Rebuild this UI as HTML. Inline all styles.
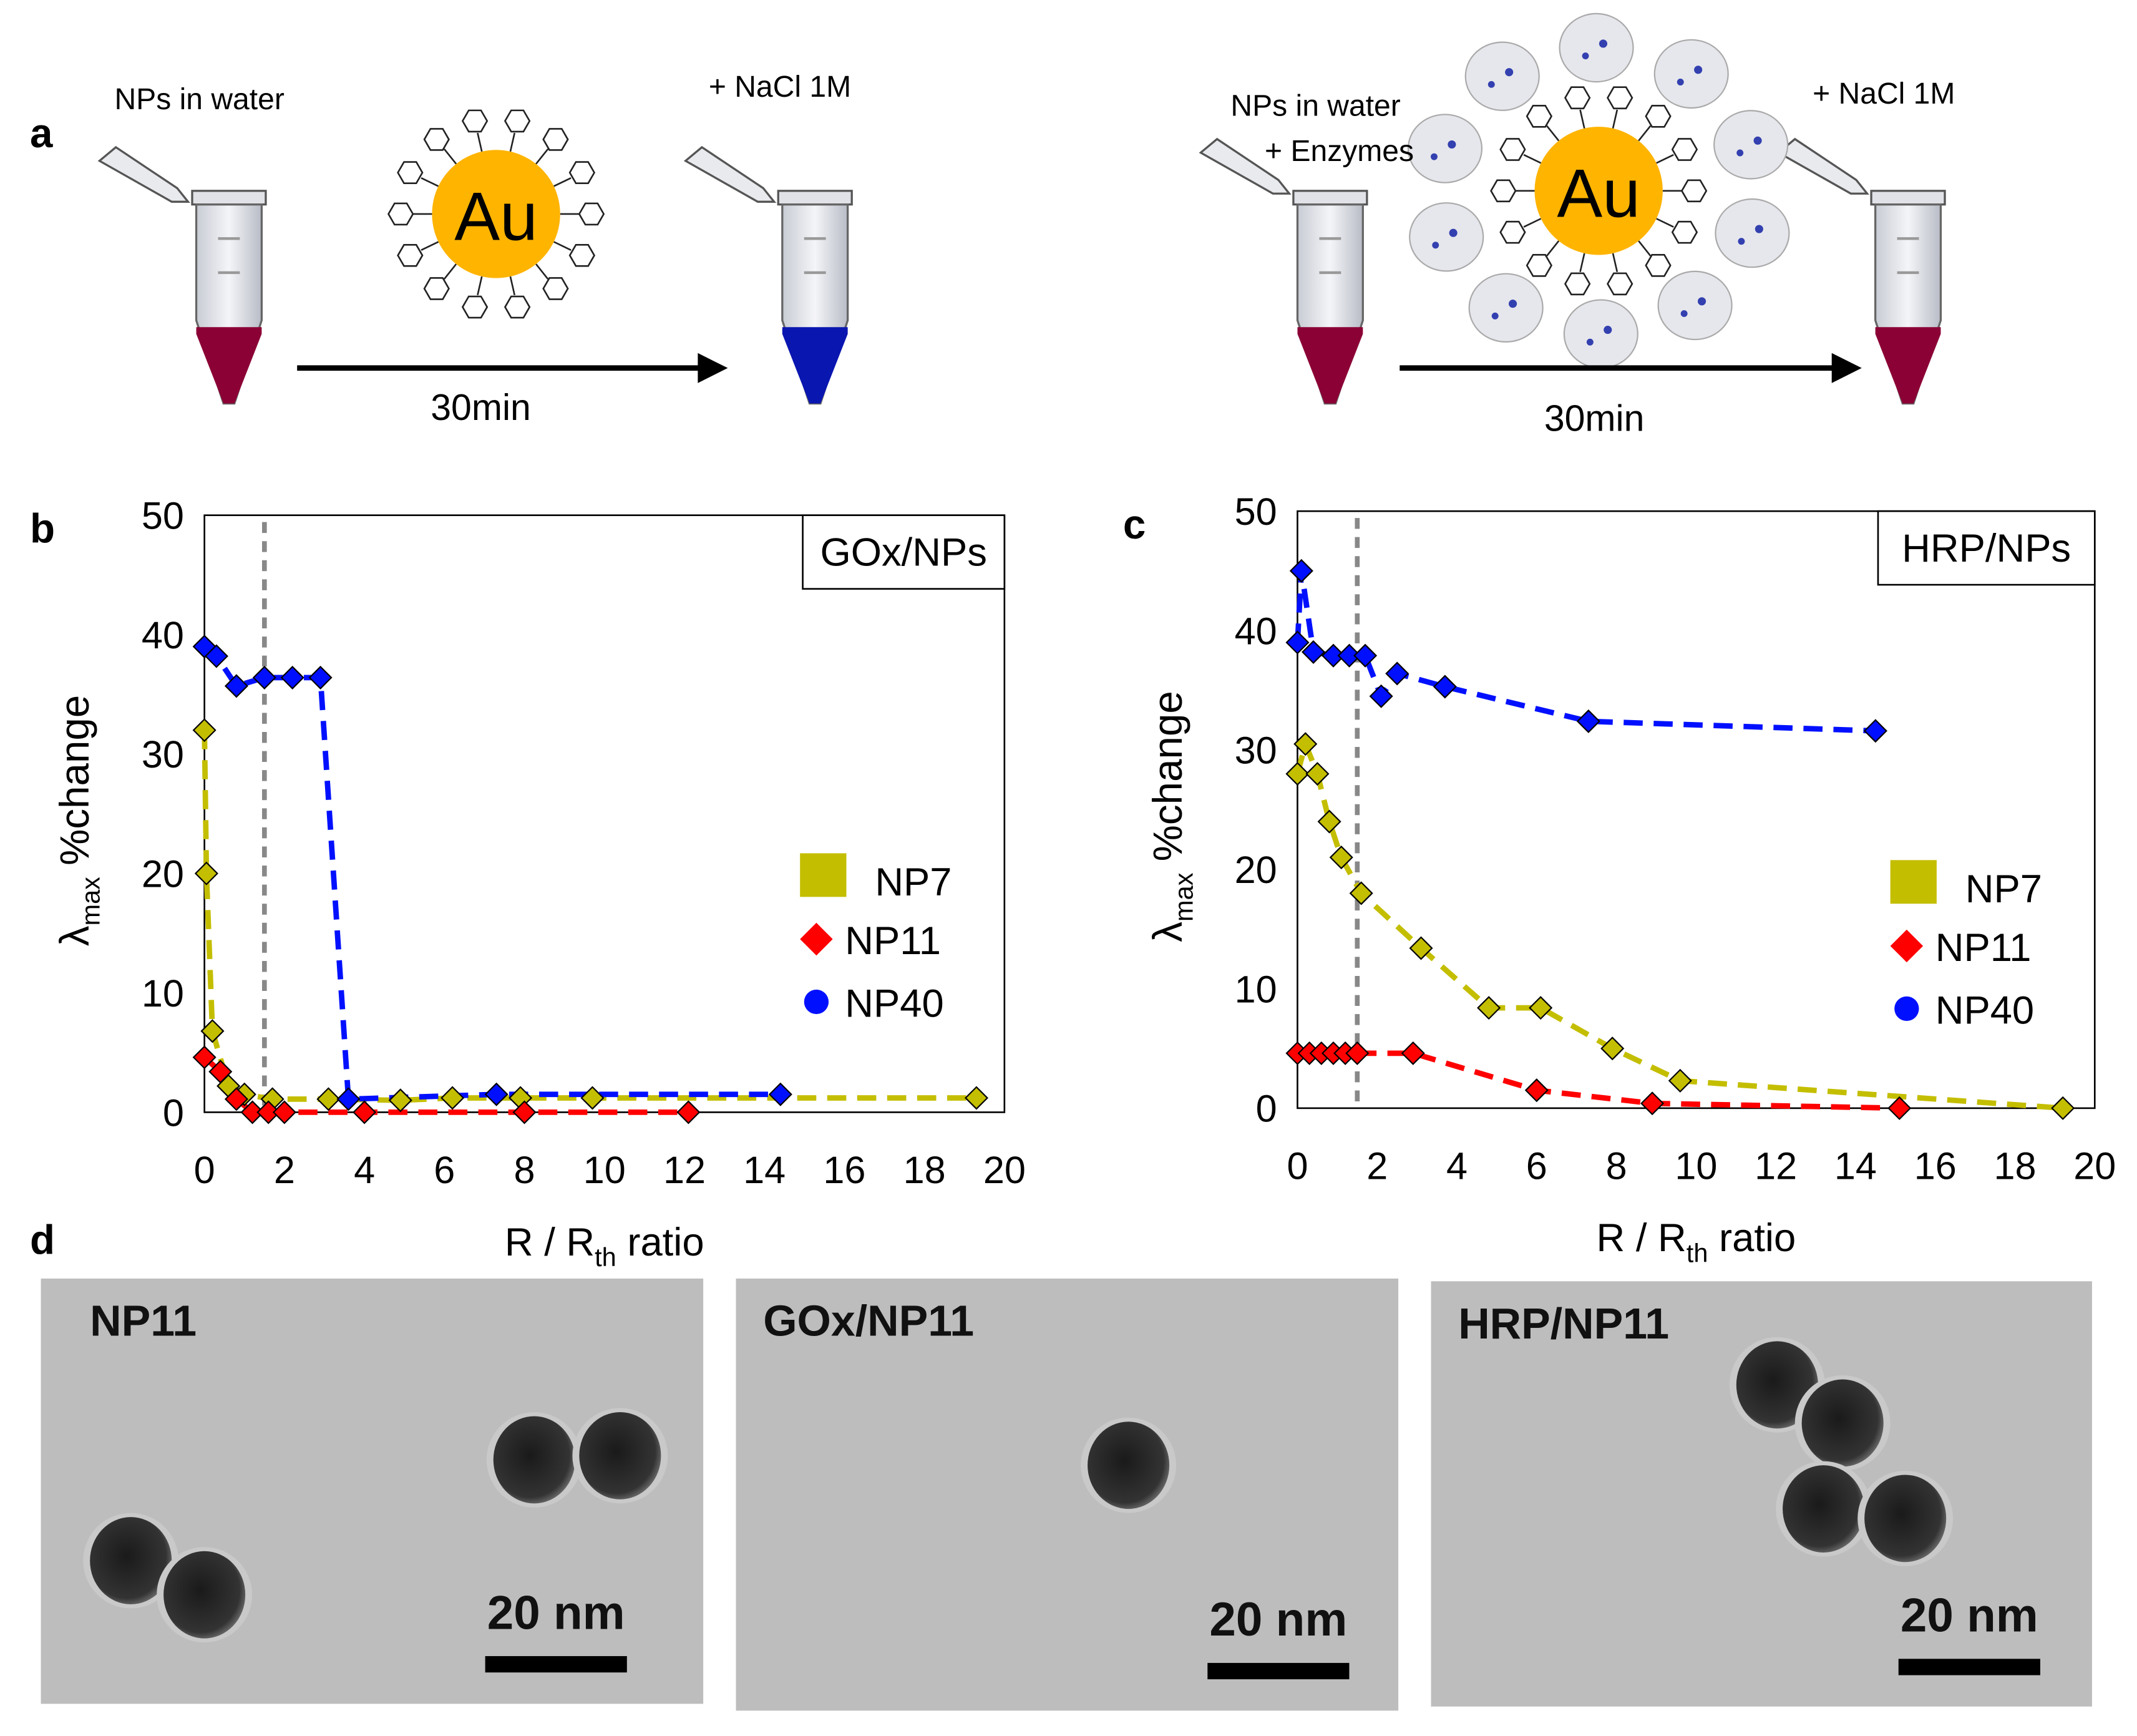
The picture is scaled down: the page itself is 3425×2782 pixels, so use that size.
<!DOCTYPE html>
<html><head><meta charset="utf-8">
<style>
html,body{margin:0;padding:0;background:#fff;}
svg{display:block;font-family:"Liberation Sans",Arial,sans-serif;}
</style></head>
<body>
<svg id="fig" width="3425" height="2782" viewBox="0 0 1568 1273.6" xmlns="http://www.w3.org/2000/svg">
<defs>
<linearGradient id="tubeG" x1="0" x2="1"><stop offset="0" stop-color="#c8ccd4"/><stop offset="0.5" stop-color="#f4f5f8"/><stop offset="1" stop-color="#b8bcc6"/></linearGradient>
<radialGradient id="np" cx="0.45" cy="0.45" r="0.6"><stop offset="0" stop-color="#1a1a1a"/><stop offset="0.8" stop-color="#333"/><stop offset="1" stop-color="#777"/></radialGradient>
</defs>

<g>
<text x="22" y="108" font-size="30" font-weight="bold">a</text>
<g id="tubes"></g>
<text x="84" y="80" font-size="22">NPs in water</text>
<text x="520" y="71" font-size="22">+ NaCl 1M</text>
<g id="ligands"></g>
<text x="903" y="85" font-size="22">NPs in water</text>
<text x="928" y="118" font-size="22">+ Enzymes</text>
<text x="1330" y="76" font-size="22">+ NaCl 1M</text>
<line x1="218" y1="270" x2="520" y2="270" stroke="#000" stroke-width="4"/>
<polygon points="534,270 512,259 512,281" fill="#000"/>
<text x="316" y="308" font-size="27">30min</text>
<line x1="1027" y1="270" x2="1350" y2="270" stroke="#000" stroke-width="4"/>
<polygon points="1366,270 1344,259 1344,281" fill="#000"/>
<text x="1133" y="316" font-size="27">30min</text>
<circle cx="364" cy="157" r="47" fill="#FFB400"/>
<text x="364" y="176" font-size="50" text-anchor="middle">Au</text>
<circle cx="1173" cy="140" r="47" fill="#FFB400"/>
<text x="1173" y="159" font-size="50" text-anchor="middle">Au</text>
</g>

<g id="chartB"></g>
<g id="chartC"></g>

<g>
<text x="22" y="920" font-size="30" font-weight="bold">d</text>
<g id="tem"></g>
</g>
</svg>
<script>
const xTicks = [0,2,4,6,8,10,12,14,16,18,20];
const yTicks = [0,10,20,30,40,50];
const bNP40x = [0,0.3,0.8,1.5,2.2,2.9,3.6,7.3,14.4];
const bNP40y = [39,38.2,35.7,36.4,36.4,36.4,1.1,1.5,1.5];
const bNP7x = [0,0.05,0.2,0.6,1.0,1.7,3.1,4.9,6.2,7.9,9.7,19.3];
const bNP7y = [32,20,6.8,2.2,1.5,1.1,1.1,1.0,1.2,1.2,1.2,1.2];
const bNP11x = [0,0.4,0.8,1.2,1.6,2.0,4.0,8.0,12.1];
const bNP11y = [4.6,3.4,1.1,0,0,0,0,0,0];
const cNP40x = [0,0.1,0.4,0.9,1.3,1.7,2.1,2.5,3.7,7.3,14.5];
const cNP40y = [39,45,38.2,37.9,37.9,37.9,34.5,36.4,35.3,32.4,31.6];
const cNP7x = [0,0.2,0.5,0.8,1.1,1.6,3.1,4.8,6.1,7.9,9.6,19.2];
const cNP7y = [28,30.5,28,24,21,18,13.4,8.4,8.4,5,2.3,0];
const cNP11x = [0,0.3,0.6,0.9,1.2,1.5,2.9,6.0,8.9,15.1];
const cNP11y = [4.6,4.6,4.6,4.6,4.6,4.6,4.6,1.5,0.4,0];
const thresholdX = 1.5;

const NS = "http://www.w3.org/2000/svg";
function mk(parent, tag, attrs, text){
  const e=document.createElementNS(NS,tag);
  for(const k in attrs) e.setAttribute(k,attrs[k]);
  if(text!==undefined) e.textContent=text;
  parent.appendChild(e); return e;
}
const YEL="#C4BE00", RED="#FF0000", BLU="#0010FF";

function chart(gid, x0, x1, y0, y1, title, boxX, boxW, series, letter, legY){
  const g=document.getElementById(gid);
  const sx=v=>x0+(x1-x0)*v/20, sy=v=>y0-(y0-y1)*v/50;
  const lab=mk(g,'text',{x:x0-128,y:y1+20,'font-size':30,'font-weight':'bold'},letter);
  
  
  const frame=mk(g,'rect',{x:x0,y:y1,width:x1-x0,height:y0-y1,fill:'none',stroke:'#000','stroke-width':1.2});
  
  
  xTicks.forEach(t=>{
    const tx=mk(g,'text',{x:sx(t),y:y0+52,'font-size':28,'text-anchor':'middle'},t);
    
    
  });
  yTicks.forEach(t=>{
    const ty=mk(g,'text',{x:x0-15,y:sy(t)+10,'font-size':28,'text-anchor':'end'},t);
    
    
  });
  const yt=mk(g,'text',{transform:`translate(${x0-85},${(y0+y1)/2+5}) rotate(-90)`,'font-size':30,'text-anchor':'middle'});
  
  
  yt.innerHTML='λ<tspan font-size="19" dy="8">max</tspan><tspan dy="-8"> %change</tspan>';
  const xt=mk(g,'text',{x:(x0+x1)/2,y:y0+105,'font-size':29,'text-anchor':'middle'});
  
  
  xt.innerHTML='R / R<tspan font-size="19" dy="8">th</tspan><tspan dy="-8"> ratio</tspan>';
  const th=mk(g,'line',{x1:sx(thresholdX),x2:sx(thresholdX),y1:y1+5,y2:y0,stroke:'#888','stroke-width':3.5,'stroke-dasharray':'8,6'});
  
  
  const tb=mk(g,'rect',{x:boxX,y:y1,width:boxW,height:54,fill:'#fff',stroke:'#000','stroke-width':1.2});
  
  
  const tt=mk(g,'text',{x:boxX+boxW/2,y:y1+37,'font-size':29,'text-anchor':'middle'},title);
  
  
  series.forEach(s=>{
    const pts=s.x.map((v,i)=>sx(v)+','+sy(s.y[i])).join(' ');
    const pl=mk(g,'polyline',{points:pts,fill:'none',stroke:s.c,'stroke-width':4,'stroke-dasharray':'14,8'});
    
    
  });
  series.forEach(s=>{
    s.x.forEach((v,i)=>{
      const cx=sx(v), cy=sy(s.y[i]), r=8;
      const p=mk(g,'polygon',{points:`${cx},${cy-r} ${cx+r},${cy} ${cx},${cy+r} ${cx-r},${cy}`,fill:s.c,stroke:'#000','stroke-width':1});
      
      
    });
  });
  const lx=x1-150;
  const l1=mk(g,'rect',{x:lx,y:legY-17,width:34,height:32,fill:YEL});
  
  
  const lt1=mk(g,'text',{x:lx+55,y:legY+14,'font-size':29},'NP7');
  
  
  const dy=46, cx2=lx+12;
  const l2=mk(g,'polygon',{points:`${cx2},${legY+dy-12} ${cx2+12},${legY+dy} ${cx2},${legY+dy+12} ${cx2-12},${legY+dy}`,fill:RED});
  
  
  const lt2=mk(g,'text',{x:lx+33,y:legY+dy+11,'font-size':29},'NP11');
  
  
  const l3=mk(g,'circle',{cx:cx2,cy:legY+2*dy,r:9,fill:BLU});
  
  
  const lt3=mk(g,'text',{x:lx+33,y:legY+2*dy+11,'font-size':29},'NP40');
  
  
}
chart('chartB',150,737,816,378,'GOx/NPs',589,148,[
  {n:'NP7',x:bNP7x,y:bNP7y,c:YEL},{n:'NP11',x:bNP11x,y:bNP11y,c:RED},{n:'NP40',x:bNP40x,y:bNP40y,c:BLU}],'b',643);
chart('chartC',952,1537,813,375,'HRP/NPs',1378,159,[
  {n:'NP7',x:cNP7x,y:cNP7y,c:YEL},{n:'NP11',x:cNP11x,y:cNP11y,c:RED},{n:'NP40',x:cNP40x,y:cNP40y,c:BLU}],'c',648);

const tubes=document.getElementById('tubes');
[[168,'#8B0035'],[598,'#0A16B0'],[976,'#8B0035'],[1400,'#8B0035']].forEach(([cx,col])=>{
  const g=mk(tubes,'g',{});
  
  
  mk(g,'path',{d:`M${cx-95},${cx>900?112:118} l12,-10 l45,30 l8,10 l-12,0 z`,fill:'#e8eaee',stroke:'#555','stroke-width':1.5});
  mk(g,'rect',{x:cx-27,y:140,width:54,height:10,fill:'#e0e2e8',stroke:'#555','stroke-width':1.5});
  mk(g,'path',{d:`M${cx-24},150 L${cx-24},235 L${cx-4},296 L${cx+4},296 L${cx+24},235 L${cx+24},150 Z`,fill:'url(#tubeG)',stroke:'#666','stroke-width':1.5});
  mk(g,'path',{d:`M${cx-24},240 L${cx+24},240 L${cx+24},245 L${cx+4},296 L${cx-4},296 L${cx-24},245 Z`,fill:col});
  mk(g,'line',{x1:cx-8,x2:cx+8,y1:175,y2:175,stroke:'#999','stroke-width':2});
  mk(g,'line',{x1:cx-8,x2:cx+8,y1:200,y2:200,stroke:'#999','stroke-width':2});
});
const lig=document.getElementById('ligands');
[[364,157,70],[1173,140,70]].forEach(([cx,cy,R],k)=>{
  if(k===1){
    for(let i=0;i<10;i++){
      const a=i/10*2*Math.PI+0.3;
      const ex=cx+118*Math.cos(a), ey=cy+105*Math.sin(a);
      const e=mk(lig,'ellipse',{cx:ex,cy:ey,rx:27,ry:25,fill:'#e6e7ec',stroke:'#aaa','stroke-width':1});
      
      
      mk(lig,'circle',{cx:ex+5,cy:ey-3,r:3,fill:'#3340b0'});
      mk(lig,'circle',{cx:ex-8,cy:ey+6,r:2.5,fill:'#3340b0'});
    }
  }
  for(let i=0;i<14;i++){
    const a=i/14*2*Math.PI;
    const x=cx+R*Math.cos(a), y=cy+R*Math.sin(a);
    mk(lig,'line',{x1:cx+47*Math.cos(a),y1:cy+47*Math.sin(a),x2:cx+(R-9)*Math.cos(a),y2:cy+(R-9)*Math.sin(a),stroke:'#222','stroke-width':1.2});
    const h=mk(lig,'polygon',{points:[0,1,2,3,4,5].map(j=>{const b=j*Math.PI/3;return (x+9*Math.cos(b))+','+(y+9*Math.sin(b));}).join(' '),fill:'#fff',stroke:'#222','stroke-width':1.2});
    
    
  }
});
const tem=document.getElementById('tem');
[[30,938,486,312,'NP11',[[96,1145],[150,1170],[392,1071],[455,1068]],408],
 [540,938,486,317,'GOx/NP11',[[828,1075]],938],
 [1050,940,485,312,'HRP/NP11',[[1304,1016],[1352,1044],[1338,1107],[1398,1114]],1445]].forEach(([x,y,w,h,lbl,nps,sbx])=>{
  const g=mk(tem,'g',{});
  
  
  mk(g,'rect',{x:x,y:y,width:w,height:h,fill:'#bdbdbd'});
  nps.forEach(([cx,cy])=>{
    mk(g,'circle',{cx:cx,cy:cy,r:35,fill:'#c9c9c9'});
    mk(g,'ellipse',{cx:cx,cy:cy,rx:30,ry:32,fill:'url(#np)'});
  });
  const t=mk(g,'text',{x:x+(lbl==='NP11'?36:20),y:y+42,'font-size':32,'font-weight':'bold',fill:'#111'},lbl);
  
  
  const s=mk(g,'text',{x:sbx,y:y+h-55,'font-size':35,'font-weight':'bold','text-anchor':'middle',fill:'#111'},'20 nm');
  
  
  const b=mk(g,'rect',{x:sbx-52,y:y+h-35,width:104,height:12,fill:'#000'});
  
  
});
</script>
</body></html>
